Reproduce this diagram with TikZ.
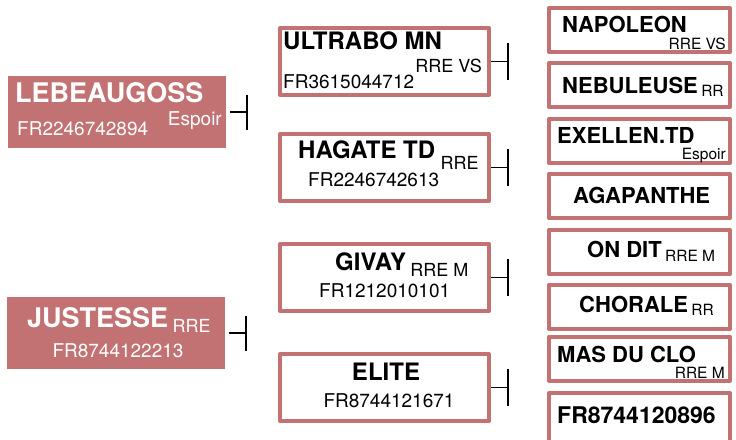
\documentclass[tikz,border=0pt]{standalone}
\usepackage{fontspec}
\setmainfont{TeX Gyre Heros}
\definecolor{rosa}{RGB}{194,114,114}
\tikzset{
  testo/.style={inner sep=0pt},
  capo/.style={fill=rosa,draw=none,inner sep=0pt,minimum width=218pt,minimum height=72pt},
  figlio/.style={draw=rosa,fill=white,line width=4pt,inner sep=0pt,minimum width=209pt,minimum height=67pt},
  avo/.style={draw=rosa,fill=white,line width=4pt,inner sep=0pt,minimum width=181pt,minimum height=44pt},
  nomeG/.style={testo,font=\bfseries\fontsize{27pt}{27pt}\selectfont},
  nomeM/.style={testo,font=\bfseries\fontsize{24pt}{24pt}\selectfont},
  nomeP/.style={testo,font=\bfseries\fontsize{22pt}{22pt}\selectfont},
  codice/.style={testo,font=\fontsize{19pt}{19pt}\selectfont},
  sigla/.style={testo,font=\fontsize{18pt}{18pt}\selectfont},
  siglaP/.style={testo,font=\fontsize{15.5pt}{15.5pt}\selectfont},
  tee/.style={line width=1.8pt,line cap=butt}
}
\begin{document}
\begin{tikzpicture}[x=1pt,y=-1pt,line join=round]
  % --- fondo
  \path[use as bounding box,fill=white] (0,0) rectangle (736,439);

  % --- i due capostipiti (riquadri pieni)
  \node[capo] (lb) at (117,112) {};
  \node[nomeG,white,anchor=base west] (lb-nome) at (15,102) {LEBEAUGOSS};
  \node[codice,white,anchor=base east] (lb-sigla) at (222,125) {Espoir};
  \node[codice,white,anchor=base west] (lb-cod) at (17,135) {FR2246742894};

  \node[capo] (lj) at (116,333) {};
  \node[nomeG,white,anchor=base west] (lj-nome) at (27,327) {JUSTESSE};
  \node[sigla,white,anchor=base west] (lj-sigla) at ([xshift=4pt,yshift=-5pt]lj-nome.base east) {RRE};
  \node[codice,white,anchor=base] (lj-cod) at (118,357) {FR8744122213};

  % --- seconda generazione
  \node[figlio] (mu) at (384.5,61.5) {};
  \node[nomeM,anchor=base west] (mu-nome) at (283,49) {ULTRABO MN};
  \node[sigla,anchor=base east] (mu-sigla) at (482,72) {RRE VS};
  \node[codice,anchor=base west] (mu-cod) at (283,88) {FR3615044712};

  \node[figlio] (mh) at (384.5,167.5) {};
  \node[nomeM,anchor=base west] (mh-nome) at (298,158) {HAGATE TD};
  \node[sigla,anchor=base west] (mh-sigla) at ([xshift=5pt,yshift=-11pt]mh-nome.base east) {RRE};
  \node[codice,anchor=base west] (mh-cod) at (308,186) {FR2246742613};

  \node[figlio] (mg) at (384.5,277.5) {};
  \node[nomeM,anchor=base west] (mg-nome) at (335,270) {GIVAY};
  \node[sigla,anchor=base west] (mg-sigla) at ([xshift=4pt,yshift=-6pt]mg-nome.base east) {RRE M};
  \node[codice,anchor=base west] (mg-cod) at (319,297) {FR1212010101};

  \node[figlio] (me) at (384.5,387.5) {};
  \node[nomeM,anchor=base] (me-nome) at (386,380) {ELITE};
  \node[codice,anchor=base] (me-cod) at (389,407) {FR8744121671};

  % --- terza generazione
  \node[avo] (a1) at (639.5,30) {};
  \node[nomeP,anchor=base west] (a1-nome) at (562,32) {NAPOLEON};
  \node[siglaP,anchor=base east] (a1-sigla) at (726,49) {RRE VS};

  \node[avo] (a2) at (639.5,85) {};
  \node[nomeP,anchor=base west] (a2-nome) at (562,93) {NEBULEUSE};
  \node[siglaP,anchor=base west] (a2-sigla) at ([xshift=3pt,yshift=-3pt]a2-nome.base east) {RR};

  \node[avo] (a3) at (639.5,141) {};
  \node[nomeP,anchor=base west] (a3-nome) at (557,143) {EXELLEN.TD};
  \node[siglaP,anchor=base east] (a3-sigla) at (726,159) {Espoir};

  \node[avo] (a4) at (639.5,196) {};
  \node[nomeP,anchor=base west] (a4-nome) at (573,203) {AGAPANTHE};

  \node[avo] (a5) at (639.5,252) {};
  \node[nomeP,anchor=base west] (a5-nome) at (587,257) {ON DIT};
  \node[siglaP,anchor=base west] (a5-sigla) at ([xshift=3pt,yshift=-4pt]a5-nome.base east) {RRE M};

  \node[avo] (a6) at (639.5,306.5) {};
  \node[nomeP,anchor=base west] (a6-nome) at (579,312) {CHORALE};
  \node[siglaP,anchor=base west] (a6-sigla) at ([xshift=3pt,yshift=-3pt]a6-nome.base east) {RR};

  \node[avo] (a7) at (639.5,358.5) {};
  \node[nomeP,anchor=base west] (a7-nome) at (557,362) {MAS DU CLO};
  \node[siglaP,anchor=base east] (a7-sigla) at (725,378) {RRE M};

  % l'ultimo riquadro esce dal bordo inferiore
  \node[avo,minimum height=50pt] (a8) at (639.5,418) {};
  \node[testo,font=\bfseries\fontsize{23pt}{23pt}\selectfont,anchor=base west] (a8-nome) at (557,423) {FR8744120896};

  % --- raccordi a T verso la generazione successiva
  \draw[tee] (lb.east) ++(4,0) -- ++(17,0) coordinate (lb-t);
  \draw[tee] ([yshift=17.5pt]lb-t) -- ([yshift=-17.5pt]lb-t);
  \draw[tee] (lj.east) ++(4,0) -- ++(17,0) coordinate (lj-t);
  \draw[tee] ([yshift=17.5pt]lj-t) -- ([yshift=-17.5pt]lj-t);

  \draw[tee] (mu.east) -- ++(17,0) coordinate (mu-t);
  \draw[tee] ([yshift=18.5pt]mu-t) -- ([yshift=-18.5pt]mu-t);
  \draw[tee] (mh.east) -- ++(17,0) coordinate (mh-t);
  \draw[tee] ([yshift=18.5pt]mh-t) -- ([yshift=-18.5pt]mh-t);
  \draw[tee] (mg.east) -- ++(17,0) coordinate (mg-t);
  \draw[tee] ([yshift=18.5pt]mg-t) -- ([yshift=-18.5pt]mg-t);
  \draw[tee] (me.east) -- ++(17,0) coordinate (me-t);
  \draw[tee] ([yshift=18.5pt]me-t) -- ([yshift=-18.5pt]me-t);
\end{tikzpicture}
\end{document}
